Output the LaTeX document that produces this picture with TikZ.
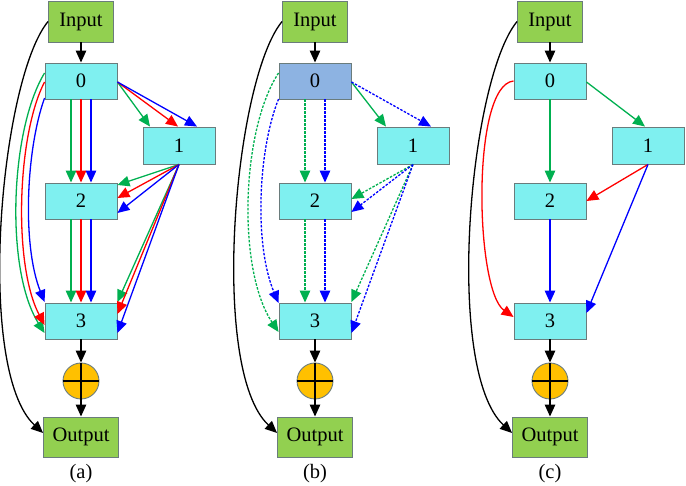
\documentclass[tikz,border=0pt]{standalone}
\usepackage{fontspec}
\setmainfont{Liberation Serif}
\usetikzlibrary{arrows.meta,calc}
\definecolor{ngreen}{HTML}{92D050}
\definecolor{ncyan}{HTML}{7FF0F0}
\definecolor{nblue}{HTML}{8DB3E2}
\definecolor{norange}{HTML}{FFC000}
\definecolor{bord}{HTML}{6A7C7C}
\definecolor{egreen}{HTML}{00B050}
\definecolor{ered}{HTML}{FF0000}
\definecolor{eblue}{HTML}{0000FF}
\tikzset{
 box/.style={draw=bord, line width=0.9pt, fill=ncyan, minimum width=72pt, minimum height=36pt, inner sep=0pt, font=\fontsize{20.5}{24}\selectfont},
 io/.style={box, fill=ngreen, minimum width=65pt, minimum height=41pt},
 outbox/.style={box, fill=ngreen, minimum width=75pt, minimum height=40pt},
 sum/.style={circle, draw=bord, fill=norange, minimum size=36pt, inner sep=0pt, line width=0.9pt},
 edge/.style={line width=1.3pt, -{Triangle[length=12pt,width=10.5pt]}},
 dsh/.style={dash pattern=on 2.5pt off 1.5pt},
 lbl/.style={font=\fontsize{20.5}{24}\selectfont},
 crossln/.style={line width=1.3pt}
}
\begin{document}
\begin{tikzpicture}[x=1pt,y=-1pt]
\useasboundingbox (0,0) rectangle (686,486);
% ---------- panel (a) ----------
\begin{scope}
\node[io] (aIn) at (81,21.5) {Input};
\node[box] (a0) at (81,81) {0};
\node[box, minimum height=37pt] (a1) at (179,145.5) {1};
\node[box] (a2) at (81,201) {2};
\node[box] (a3) at (81,321) {3};
\node[sum] (aS) at (81,381) {};
\node[outbox] (aOut) at (81,437) {Output};
\node[lbl] (aL) at (81,474) {(a)};
\draw[edge] (aIn.south) -- (a0.north);
\draw[edge] (aIn.west) .. controls (0,80) and (-25,370) .. ($(aOut.west)+(0,-4)$);
\draw[edge] (a3.south) -- (aS.north);
\draw[edge] (aS.south) -- (aOut.north);
\draw[crossln] (aS.west) -- (aS.east) (aS.north) -- (aS.south);
% 0 -> 1
\draw[edge,egreen] ($(a0.east)+(0,1)$) -- ($(a1.north)+(-29,0)$);
\draw[edge,ered] ($(a0.east)+(0,1)$) -- ($(a1.north)+(-1,0)$);
\draw[edge,eblue] ($(a0.east)+(0,1)$) -- ($(a1.north)+(18,0)$);
% 0 -> 2
\draw[edge,egreen] ($(a0.south)+(-10,0)$) -- ($(a2.north)+(-10,0)$);
\draw[edge,ered] (a0.south) -- (a2.north);
\draw[edge,eblue] ($(a0.south)+(10,0)$) -- ($(a2.north)+(10,0)$);
% 1 -> 2
\draw[edge,egreen] (a1.south) -- ($(a2.east)+(0,-16)$);
\draw[edge,ered] (a1.south) -- ($(a2.east)+(0,-3)$);
\draw[edge,eblue] (a1.south) -- ($(a2.east)+(0,12)$);
% 1 -> 3
\draw[edge,egreen] (a1.south) -- ($(a3.east)+(0,-19)$);
\draw[edge,ered] (a1.south) -- ($(a3.east)+(0,-7)$);
\draw[edge,eblue] (a1.south) -- ($(a3.east)+(0,12)$);
% 2 -> 3
\draw[edge,egreen] ($(a2.south)+(-10,0)$) -- ($(a3.north)+(-10,0)$);
\draw[edge,ered] (a2.south) -- (a3.north);
\draw[edge,eblue] ($(a2.south)+(10,0)$) -- ($(a3.north)+(10,0)$);
% 0 -> 3
\draw[edge,egreen] ($(a0.west)+(0,-8)$) .. controls (10,130) and (5,270) .. ($(a3.west)+(0,12)$);
\draw[edge,ered] ($(a0.west)+(0,1)$) .. controls (17,135) and (13,265) .. ($(a3.west)+(0,4)$);
\draw[edge,eblue] ($(a0.west)+(0,17)$) .. controls (26,150) and (22,245) .. ($(a3.west)+(0,-19)$);
\end{scope}
% ---------- panel (b) ----------
\begin{scope}[xshift=234pt]
\node[io] (bIn) at (81,21.5) {Input};
\node[box, fill=nblue] (b0) at (81,81) {0};
\node[box, minimum height=37pt] (b1) at (179,145.5) {1};
\node[box] (b2) at (81,201) {2};
\node[box] (b3) at (81,321) {3};
\node[sum] (bS) at (81,381) {};
\node[outbox] (bOut) at (81,437) {Output};
\node[lbl] (bL) at (81,474) {(b)};
\draw[edge] (bIn.south) -- (b0.north);
\draw[edge] (bIn.west) .. controls (0,80) and (-25,370) .. ($(bOut.west)+(0,-4)$);
\draw[edge] (b3.south) -- (bS.north);
\draw[edge] (bS.south) -- (bOut.north);
\draw[crossln] (bS.west) -- (bS.east) (bS.north) -- (bS.south);
% 0 -> 1
\draw[edge,egreen] ($(b0.east)+(0,1)$) -- ($(b1.north)+(-27,0)$);
\draw[edge,eblue,dsh] ($(b0.east)+(0,1)$) -- ($(b1.north)+(18,0)$);
% 0 -> 2
\draw[edge,egreen,dsh] ($(b0.south)+(-10,0)$) -- ($(b2.north)+(-10,0)$);
\draw[edge,eblue,dsh] ($(b0.south)+(10,0)$) -- ($(b2.north)+(10,0)$);
% 1 -> 2
\draw[edge,egreen,dsh] (b1.south) -- ($(b2.east)+(0,-2)$);
\draw[edge,eblue,dsh] (b1.south) -- ($(b2.east)+(0,11)$);
% 1 -> 3
\draw[edge,egreen,dsh] (b1.south) -- ($(b3.east)+(0,-19)$);
\draw[edge,eblue,dsh] (b1.south) -- ($(b3.east)+(0,12)$);
% 2 -> 3
\draw[edge,egreen,dsh] ($(b2.south)+(-10,0)$) -- ($(b3.north)+(-10,0)$);
\draw[edge,eblue,dsh] ($(b2.south)+(10,0)$) -- ($(b3.north)+(10,0)$);
% 0 -> 3
\draw[edge,egreen,dsh] ($(b0.west)+(0,-8)$) .. controls (7,130) and (3,270) .. ($(b3.west)+(0,11)$);
\draw[edge,eblue,dsh] ($(b0.west)+(0,18)$) .. controls (24,150) and (20,245) .. ($(b3.west)+(0,-18)$);
\end{scope}
% ---------- panel (c) ----------
\begin{scope}[xshift=469pt]
\node[io] (cIn) at (81,21.5) {Input};
\node[box] (c0) at (81,81) {0};
\node[box, minimum height=37pt] (c1) at (179,145.5) {1};
\node[box] (c2) at (81,201) {2};
\node[box] (c3) at (81,321) {3};
\node[sum] (cS) at (81,381) {};
\node[outbox] (cOut) at (81,437) {Output};
\node[lbl] (cL) at (81,474) {(c)};
\draw[edge] (cIn.south) -- (c0.north);
\draw[edge] (cIn.west) .. controls (0,80) and (-25,370) .. ($(cOut.west)+(0,-4)$);
\draw[edge] (c3.south) -- (cS.north);
\draw[edge] (cS.south) -- (cOut.north);
\draw[crossln] (cS.west) -- (cS.east) (cS.north) -- (cS.south);
\draw[edge,egreen] ($(c0.east)+(0,1)$) -- ($(c1.north)+(-3,0)$);
\draw[edge,egreen] (c0.south) -- (c2.north);
\draw[edge,ered] (c1.south) -- (c2.east);
\draw[edge,eblue] (c1.south) -- ($(c3.east)+(0,-8)$);
\draw[edge,eblue] (c2.south) -- (c3.north);
\draw[edge,ered] (c0.west) .. controls (2,85) and (6,290) .. ($(c3.west)+(0,-4)$);
\end{scope}
\end{tikzpicture}
\end{document}
